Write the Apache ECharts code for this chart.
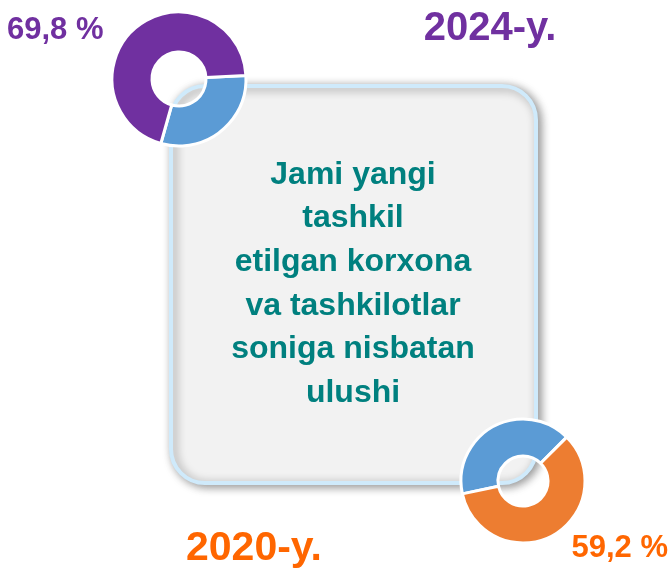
<!DOCTYPE html>
<html>
<head>
<meta charset="utf-8">
<script src="https://cdn.jsdelivr.net/npm/echarts@6/dist/echarts.min.js"></script>
<style>
html, body { margin: 0; padding: 0; background: #fff; }
#main { width: 672px; height: 569px; }
</style>
</head>
<body>
<div id="main"></div>
<script>
var years = ['2024-y.', '2020-y.'];
var shareNames = ['Ulushi', 'Boshqa'];
var share2024 = [69.8, 30.2];
var share2020 = [59.2, 40.8];
var boxLines = ['Jami yangi', 'tashkil', 'etilgan korxona', 'va tashkilotlar', 'soniga nisbatan', 'ulushi'];

var purple = '#7030A0';
var orange = '#ED7D31';
var orangeText = '#FF6600';
var blue = '#5B9BD5';
var teal = '#00807F';

function pct(v) {
    return String(v).replace('.', ',') + ' %';
}

var chart = echarts.init(document.getElementById('main'));

var option = {
    animation: false,
    backgroundColor: '#ffffff',
    graphic: [
        {
            type: 'rect',
            z: 0,
            shape: { x: 171, y: 86, width: 365, height: 397, r: 34 },
            style: {
                fill: '#F2F2F2',
                stroke: '#CFEAFB',
                lineWidth: 4,
                shadowBlur: 10,
                shadowColor: 'rgba(0,0,0,0.4)',
                shadowOffsetX: 3,
                shadowOffsetY: 2
            }
        },
        {
            type: 'text',
            z: 1,
            x: 353,
            y: 284,
            style: {
                text: boxLines.join('\n'),
                fill: teal,
                font: 'bold 32px "Liberation Sans", Arial, sans-serif',
                lineHeight: 43.6,
                align: 'center',
                verticalAlign: 'middle'
            }
        },
        {
            type: 'text', z: 5, x: 7, y: 30,
            style: {
                text: pct(share2024[0]), fill: purple,
                font: 'bold 31px "Liberation Sans", Arial, sans-serif',
                align: 'left', verticalAlign: 'middle'
            }
        },
        {
            type: 'text', z: 5, x: 490, y: 29,
            style: {
                text: years[0], fill: purple,
                font: 'bold 40px "Liberation Sans", Arial, sans-serif',
                align: 'center', verticalAlign: 'middle'
            }
        },
        {
            type: 'text', z: 5, x: 254, y: 549,
            style: {
                text: years[1], fill: orangeText,
                font: 'bold 41px "Liberation Sans", Arial, sans-serif',
                align: 'center', verticalAlign: 'middle'
            }
        },
        {
            type: 'text', z: 5, x: 668, y: 548,
            style: {
                text: pct(share2020[0]), fill: orangeText,
                font: 'bold 31px "Liberation Sans", Arial, sans-serif',
                align: 'right', verticalAlign: 'middle'
            }
        }
    ],
    series: [
        {
            type: 'pie',
            z: 3,
            silent: true,
            center: [179, 79],
            radius: [27, 67],
            startAngle: 3,
            label: { show: false },
            labelLine: { show: false },
            itemStyle: { borderColor: '#ffffff', borderWidth: 3 },
            data: [
                { name: shareNames[1], value: share2024[1], itemStyle: { color: blue } },
                { name: shareNames[0], value: share2024[0], itemStyle: { color: purple } }
            ]
        },
        {
            type: 'pie',
            z: 3,
            silent: true,
            center: [523, 481],
            radius: [25, 62],
            startAngle: 192,
            label: { show: false },
            labelLine: { show: false },
            itemStyle: { borderColor: '#ffffff', borderWidth: 3 },
            data: [
                { name: shareNames[1], value: share2020[1], itemStyle: { color: blue } },
                { name: shareNames[0], value: share2020[0], itemStyle: { color: orange } }
            ]
        }
    ]
};

chart.setOption(option);
</script>
</body>
</html>
